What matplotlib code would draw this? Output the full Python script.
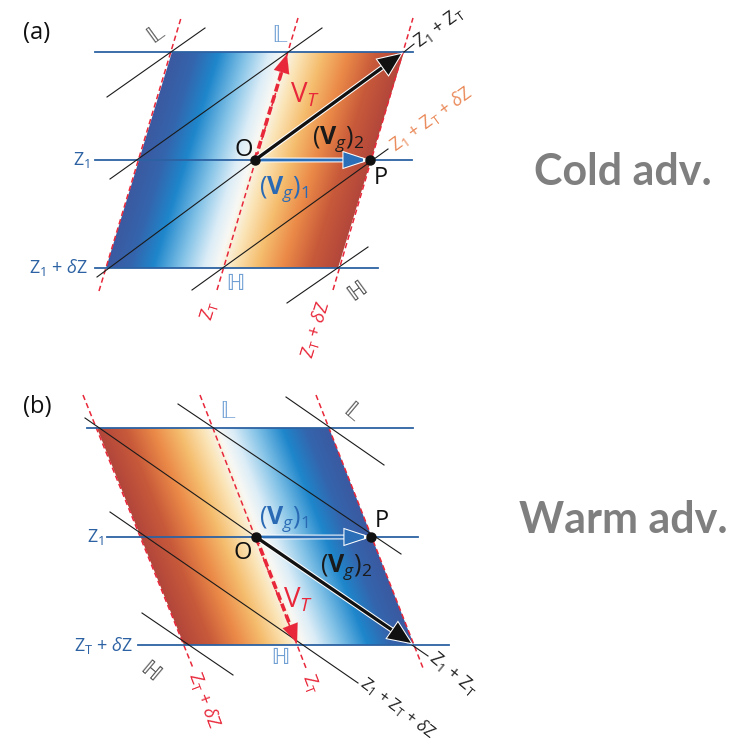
import numpy as np
import matplotlib
matplotlib.use("Agg")
import matplotlib.pyplot as plt
from matplotlib.colors import LinearSegmentedColormap
from matplotlib.patches import Polygon, FancyArrowPatch
import matplotlib.patheffects as pe

plt.rcParams['font.family'] = ['Open Sans', 'DejaVu Sans']
plt.rcParams['mathtext.fontset'] = 'custom'
plt.rcParams['mathtext.rm'] = 'Open Sans'
plt.rcParams['mathtext.it'] = 'Open Sans:italic'
plt.rcParams['mathtext.bf'] = 'Open Sans:bold'
plt.rcParams['mathtext.default'] = 'regular'

# ---- panel (a): cold advection, geometry in image pixels ----
a_corners = [(172, 52), (404, 52), (338, 268), (106, 268)]   # TL, TR, BR, BL
a_O = (255, 160)
a_P = (370, 160)
a_blue = [(52, 95, 413), (160, 95, 412), (268, 95, 378)]      # y, x0, x1
a_red = [((99, 291), (181, 18)), ((217, 290), (298, 18)), ((333, 290), (413, 18))]
a_black = [((107, 97), (205, 28)), ((110, 179), (322, 28)), ((97, 277), (255, 160)),
           ((404, 52), (414, 44)), ((192, 290), (388, 149)), ((287, 303), (368, 247))]
a_vg2_tip = (401, 54)
a_vt_tip = (287, 54)

# ---- panel (b): warm advection ----
b_corners = [(97, 428), (329, 428), (414, 645), (184, 645)]
b_O = (256, 537)
b_P = (371, 537)
b_blue = [(428, 87, 413), (537, 107, 418), (645, 138, 449)]
b_red = [((83, 395), (193, 668)), ((200, 395), (306, 668)), ((316, 395), (423, 668))]
b_black = [((286, 397), (384, 465)), ((178, 404), (401, 554)), ((85, 418), (256, 537)),
           ((412, 645), (428, 656)), ((110, 512), (358, 683)), ((142, 613), (233, 675))]
b_vg2_tip = (411, 643)
b_vt_tip = (297, 643)

# colour ramp across the parallelogram, left to right for (a)
ramp_pos = [0.0, 0.10, 0.20, 0.32, 0.42, 0.48, 0.55, 0.65, 0.76, 0.88, 1.0]
ramp_col = ['#3b59a0', '#3465ad', '#1e86cb', '#84c3e7', '#dcedf7', '#f8f8f4',
            '#fbe4b6', '#f5bd6e', '#eb8a48', '#c85a3a', '#b2463a']

BLUE = '#2c62a3'
RED = '#e8283a'
cmap = LinearSegmentedColormap.from_list('adv', list(zip(ramp_pos, ramp_col)))

fig = plt.figure(figsize=(7.34, 7.47), dpi=100)
ax = fig.add_axes([0, 0, 1, 1])
ax.set_xlim(0, 734)
ax.set_ylim(747, 0)
ax.axis('off')


def shade(corners, reverse):
    tl, tr, br, bl = corners
    x0, x1 = min(tl[0], bl[0]), max(tr[0], br[0])
    y0, y1 = tl[1], bl[1]
    xs = np.arange(x0, x1 + 1, 0.5)
    ys = np.arange(y0, y1 + 1, 0.5)
    X, Y = np.meshgrid(xs, ys)
    t = (Y - y0) / (y1 - y0)
    xl = tl[0] + (bl[0] - tl[0]) * t
    xr = tr[0] + (br[0] - tr[0]) * t
    u = np.clip((X - xl) / (xr - xl), 0, 1)
    if reverse:
        u = 1 - u
    im = ax.imshow(cmap(u), extent=(x0, x1 + 1, y1 + 1, y0), origin='upper',
                   interpolation='bilinear', zorder=1)
    poly = Polygon(corners, closed=True, facecolor='none', edgecolor='none')
    ax.add_patch(poly)
    im.set_clip_path(poly)


def arrow(p0, p1, color, lw, hl=0.7, hw=0.3, ms=18, z=6, edge=True):
    a = FancyArrowPatch(p0, p1, arrowstyle=f'-|>,head_length={hl},head_width={hw}',
                        mutation_scale=ms, color=color, lw=lw, shrinkA=0, shrinkB=0,
                        zorder=z, joinstyle='miter')
    if edge:
        a.set_path_effects([pe.withStroke(linewidth=lw + 1.5, foreground='white')])
    ax.add_patch(a)


def panel(corners, O, P, blue, red, black, vg2_tip, vt_tip, reverse):
    shade(corners, reverse)
    for y, x0, x1 in blue:
        ax.plot([x0, x1], [y, y], color=BLUE, lw=1.3, zorder=3)
    for p0, p1 in red:
        ax.plot([p0[0], p1[0]], [p0[1], p1[1]], color=RED, lw=1.1,
                dashes=(3.5, 2.2), zorder=2)
    for p0, p1 in black:
        ax.plot([p0[0], p1[0]], [p0[1], p1[1]], color='#1a1a1a', lw=0.8, zorder=4)
    # thermal wind, thick dashed red
    d = np.array(vt_tip) - np.array(O)
    base = np.array(O) + d * (1 - 13 / np.hypot(*d))
    ax.plot([O[0], base[0]], [O[1], base[1]], color=RED, lw=2.6,
            dashes=(2.2, 1.1), zorder=5)
    arrow(tuple(base - d * 0.02), vt_tip, RED, 0.1, hl=0.75, hw=0.32, ms=18, z=5,
          edge=False)
    # geostrophic winds
    arrow(O, (P[0] - 3, P[1]), '#2a6fb8', 2.0, hl=0.85, hw=0.28, ms=15)
    arrow(O, vg2_tip, '#111111', 2.4, hl=0.7, hw=0.3, ms=17)
    ax.plot(*O, 'o', color='#111111', ms=6.5, zorder=8)
    ax.plot(*P, 'o', color='#111111', ms=6.5, zorder=8)


panel(a_corners, a_O, a_P, a_blue, a_red, a_black, a_vg2_tip, a_vt_tip, False)
panel(b_corners, b_O, b_P, b_blue, b_red, b_black, b_vg2_tip, b_vt_tip, True)

LB = '#6f9fd2'
GR = '#555555'
labels = [
    # text, x, y, color, size, rotation, ha
    ('(a)', 37, 33, '#111111', 17, 0, 'center'),
    ('(b)', 37, 407, '#111111', 17, 0, 'center'),
    (r'Z$_1$', 90, 160, BLUE, 13, 0, 'right'),
    (r'Z$_1$ + $\mathit{\delta}$Z', 88, 268, BLUE, 13, 0, 'right'),
    (r'Z$_1$', 104, 537, BLUE, 13, 0, 'right'),
    (r'Z$_T$ + $\mathit{\delta}$Z', 133, 645, BLUE, 13, 0, 'right'),
    (r'Z$_1$ + Z$_T$', 416, 44, '#222222', 13, 36, 'left'),
    (r'Z$_1$ + Z$_T$ + $\mathit{\delta}$Z', 392, 148, '#ea8a5a', 13, 36, 'left'),
    (r'Z$_T$', 209, 311, RED, 13, 73, 'center'),
    (r'Z$_T$ + $\mathit{\delta}$Z', 316, 330, RED, 13, 73, 'center'),
    (r'Z$_1$ + Z$_T$', 431, 655, '#222222', 13, -40, 'left'),
    (r'Z$_1$ + Z$_T$ + $\mathit{\delta}$Z', 362, 681, '#222222', 12, -37, 'left'),
    (r'Z$_T$ + $\mathit{\delta}$Z', 204, 700, RED, 13, -69, 'center'),
    (r'Z$_T$', 311, 683, RED, 13, -69, 'center'),
    (r'V$_{\mathit{T}}$', 305, 95, RED, 20, 0, 'center'),
    (r'V$_{\mathit{T}}$', 298, 600, RED, 20, 0, 'center'),
    (r'($\mathbf{V}_{\mathit{g}}$)$_2$', 338, 139, '#1a1a1a', 18, 0, 'center'),
    (r'($\mathbf{V}_{\mathit{g}}$)$_1$', 284, 189, '#2a6ab5', 18, 0, 'center'),
    (r'($\mathbf{V}_{\mathit{g}}$)$_1$', 284, 519, '#2a6ab5', 18, 0, 'center'),
    (r'($\mathbf{V}_{\mathit{g}}$)$_2$', 346, 567, '#1a1a1a', 18, 0, 'center'),
    ('O', 244, 150, '#111111', 17, 0, 'center'),
    ('P', 381, 178, '#111111', 17, 0, 'center'),
    ('O', 243, 553, '#111111', 17, 0, 'center'),
    ('P', 382, 521, '#111111', 17, 0, 'center'),
]
for s, x, y, c, fs, rot, ha in labels:
    ax.text(x, y, s, color=c, fontsize=fs, rotation=rot, ha=ha, va='center',
            rotation_mode='anchor', zorder=9)

bb = [
    (r'$\mathbb{L}$', 157, 34, GR, 36),
    (r'$\mathbb{L}$', 280, 35, LB, 0),
    (r'$\mathbb{H}$', 235, 283, LB, 0),
    (r'$\mathbb{H}$', 357, 292, GR, 36),
    (r'$\mathbb{L}$', 228, 411, LB, 0),
    (r'$\mathbb{L}$', 353, 412, GR, -40),
    (r'$\mathbb{H}$', 280, 658, LB, 0),
    (r'$\mathbb{H}$', 150, 670, GR, -40),
]
for s, x, y, c, rot in bb:
    ax.text(x, y, s, color=c, fontsize=18, rotation=rot, ha='center', va='center',
            rotation_mode='anchor', math_fontfamily='stix', zorder=9)

ax.text(623, 185, 'Cold adv.', color='#7f7f7f', fontsize=31, fontweight='bold',
        family='Lato', ha='center', va='baseline')
ax.text(623, 533, 'Warm adv.', color='#7f7f7f', fontsize=31, fontweight='bold',
        family='Lato', ha='center', va='baseline')

fig.savefig('out.png', dpi=100)
